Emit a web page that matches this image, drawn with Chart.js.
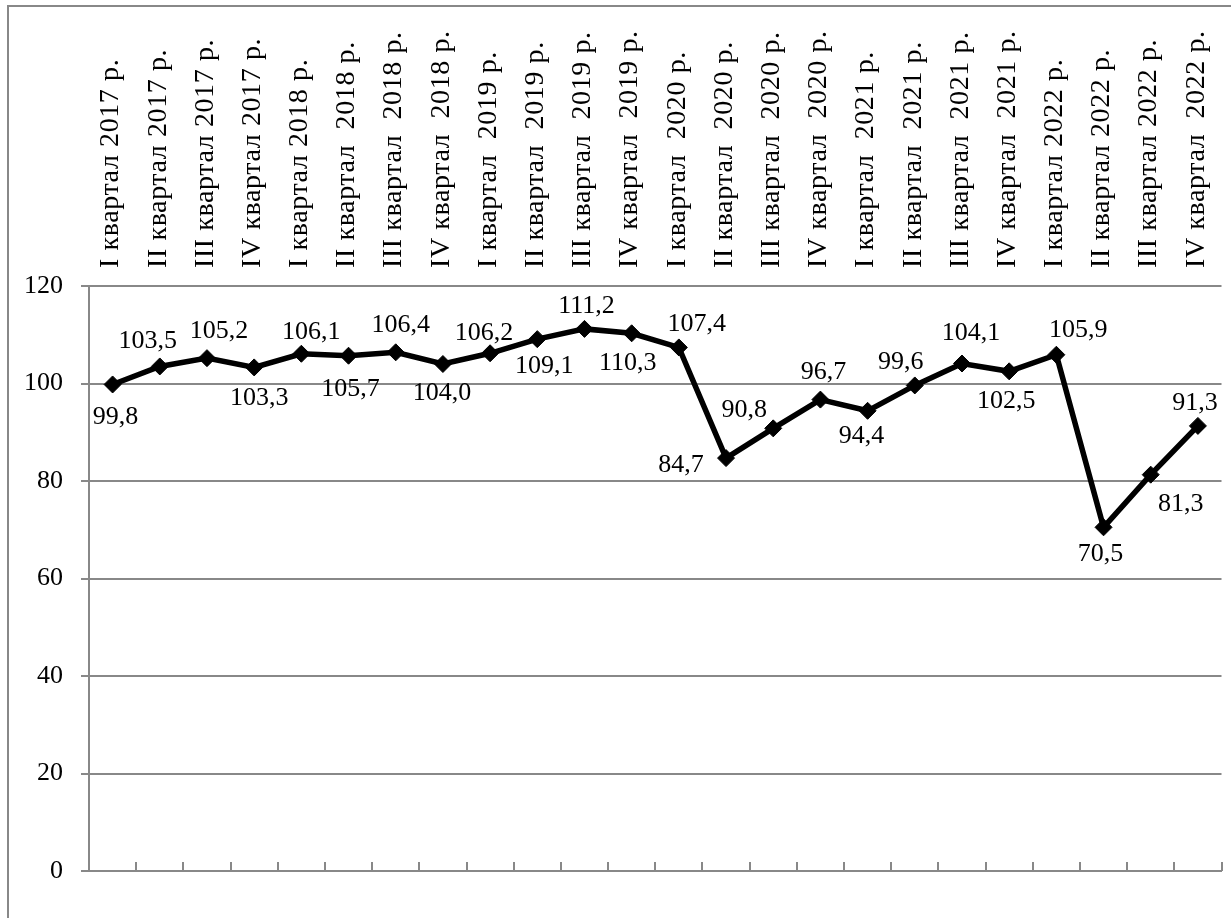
<!DOCTYPE html>
<html>
<head>
<meta charset="utf-8">
<script src="https://cdn.jsdelivr.net/npm/chart.js@4.4.1/dist/chart.umd.min.js"></script>
<style>
  html, body { margin: 0; padding: 0; background: #fff; overflow: hidden; }
  #frame { position: absolute; left: 7px; top: 5px; width: 1300px; height: 1000px;
           border-top: 2px solid #888; border-left: 2px solid #888; }
  #chart { position: absolute; left: 0; top: 0; }
</style>
</head>
<body>
<div id="frame"></div>
<canvas id="chart" width="1231" height="918"></canvas>
<script>
// кварталы (подписи оси X)
const quarters = [
    "I квартал 2017 р.", "II квартал 2017 р.", "III квартал 2017 р.", "IV квартал 2017 р.",
    "I квартал 2018 р.", "II квартал  2018 р.", "III квартал  2018 р.", "IV квартал  2018 р.",
    "I квартал  2019 р.", "II квартал  2019 р.", "III квартал  2019 р.", "IV квартал  2019 р.",
    "I квартал  2020 р.", "II квартал  2020 р.", "III квартал  2020 р.", "IV квартал  2020 р.",
    "I квартал  2021 р.", "II квартал  2021 р.", "III квартал  2021 р.", "IV квартал  2021 р.",
    "I квартал 2022 р.", "II квартал 2022 р.", "III квартал 2022 р.", "IV квартал  2022 р."
];

// значения
const values = [
    99.8, 103.5, 105.2, 103.3, 106.1, 105.7, 106.4, 104.0,
    106.2, 109.1, 111.2, 110.3, 107.4, 84.7, 90.8, 96.7,
    94.4, 99.6, 104.1, 102.5, 105.9, 70.5, 81.3, 91.3
];

// деления оси Y
const yTicks = [0, 20, 40, 60, 80, 100, 120];

// сдвиг подписи от маркера, px
const labelShift = [
    [3, 33], [-12, -25], [12, -27], [5, 31], [10, -22], [2, 33],
    [5, -27], [-1, 29], [-6, -20], [7, 27], [2, -23], [-4, 30],
    [18, -23], [-45, 7], [-29, -18], [3, -27], [-6, 25], [-14, -23],
    [9, -30], [-3, 30], [22, -25], [-3, 27], [30, 30], [-3, -23]
];

const serif = "Liberation Serif";
const gray = "#888888";

function fmt(v) {
    return v.toFixed(1).replace(".", ",");
}

// небольшая разрядка для подписей осей (рисуются до наборов данных)
const spacing = {
    id: "spacing",
    beforeDraw(chart) {
        chart.ctx.letterSpacing = "0.6px";
    },
    beforeDatasetsDraw(chart) {
        chart.ctx.letterSpacing = "0px";
    }
};

// подписи значений и внутренние засечки нижней оси
const pointLabels = {
    id: "pointLabels",
    afterDatasetsDraw(chart) {
        const ctx = chart.ctx;
        const pts = chart.getDatasetMeta(0).data;
        ctx.save();
        ctx.letterSpacing = "0px";
        ctx.font = "26px '" + serif + "'";
        ctx.fillStyle = "#000";
        ctx.textAlign = "center";
        ctx.textBaseline = "middle";
        pts.forEach((p, i) => {
            const [dx, dy] = labelShift[i];
            ctx.fillText(fmt(values[i]), p.x + dx, p.y + dy);
        });

        const xs = chart.scales.x;
        const step = xs.getPixelForValue(1) - xs.getPixelForValue(0);
        ctx.strokeStyle = gray;
        ctx.lineWidth = 2;
        ctx.beginPath();
        for (let i = 0; i <= quarters.length; i++) {
            const px = Math.round(xs.getPixelForValue(0) - step / 2 + i * step);
            ctx.moveTo(px, xs.top);
            ctx.lineTo(px, xs.top - 9);
        }
        ctx.stroke();
        ctx.restore();
    }
};

function drawChart() {
    new Chart(document.getElementById("chart"), {
        type: "line",
        data: {
            labels: quarters,
            datasets: [{
                data: values,
                borderColor: "#000",
                borderWidth: 5.5,
                pointStyle: "rectRot",
                pointRadius: 8.5,
                pointBackgroundColor: "#000",
                pointBorderColor: "#000",
                pointBorderWidth: 1,
                tension: 0
            }]
        },
        options: {
            responsive: false,
            animation: false,
            layout: { padding: { left: 0, top: 0, right: 4, bottom: 0 } },
            plugins: {
                legend: { display: false },
                tooltip: { enabled: false }
            },
            scales: {
                x: {
                    offset: true,
                    grid: { display: false, drawTicks: false },
                    border: { display: true, color: gray, width: 2 },
                    ticks: { display: false },
                    afterFit: s => { s.height = 47; }
                },
                x2: {
                    type: "category",
                    labels: quarters,
                    position: "top",
                    offset: true,
                    grid: { display: false, drawTicks: false },
                    border: { display: false },
                    ticks: {
                        autoSkip: false,
                        minRotation: 90,
                        maxRotation: 90,
                        padding: 18,
                        labelOffset: 32,
                        color: "#000",
                        font: { family: serif, size: 28 }
                    },
                    afterFit: s => { s.height = 286; }
                },
                y: {
                    min: yTicks[0],
                    max: yTicks[yTicks.length - 1],
                    ticks: {
                        z: 1,
                        stepSize: yTicks[1] - yTicks[0],
                        padding: 18,
                        color: "#000",
                        font: { family: serif, size: 26 }
                    },
                    grid: { color: gray, lineWidth: 2, tickLength: 8 },
                    border: { color: gray, width: 2 },
                    afterFit: s => { s.width = 89; }
                }
            }
        },
        plugins: [spacing, pointLabels]
    });
}

document.fonts.load("26px '" + serif + "'").then(drawChart, drawChart);
</script>
</body>
</html>
